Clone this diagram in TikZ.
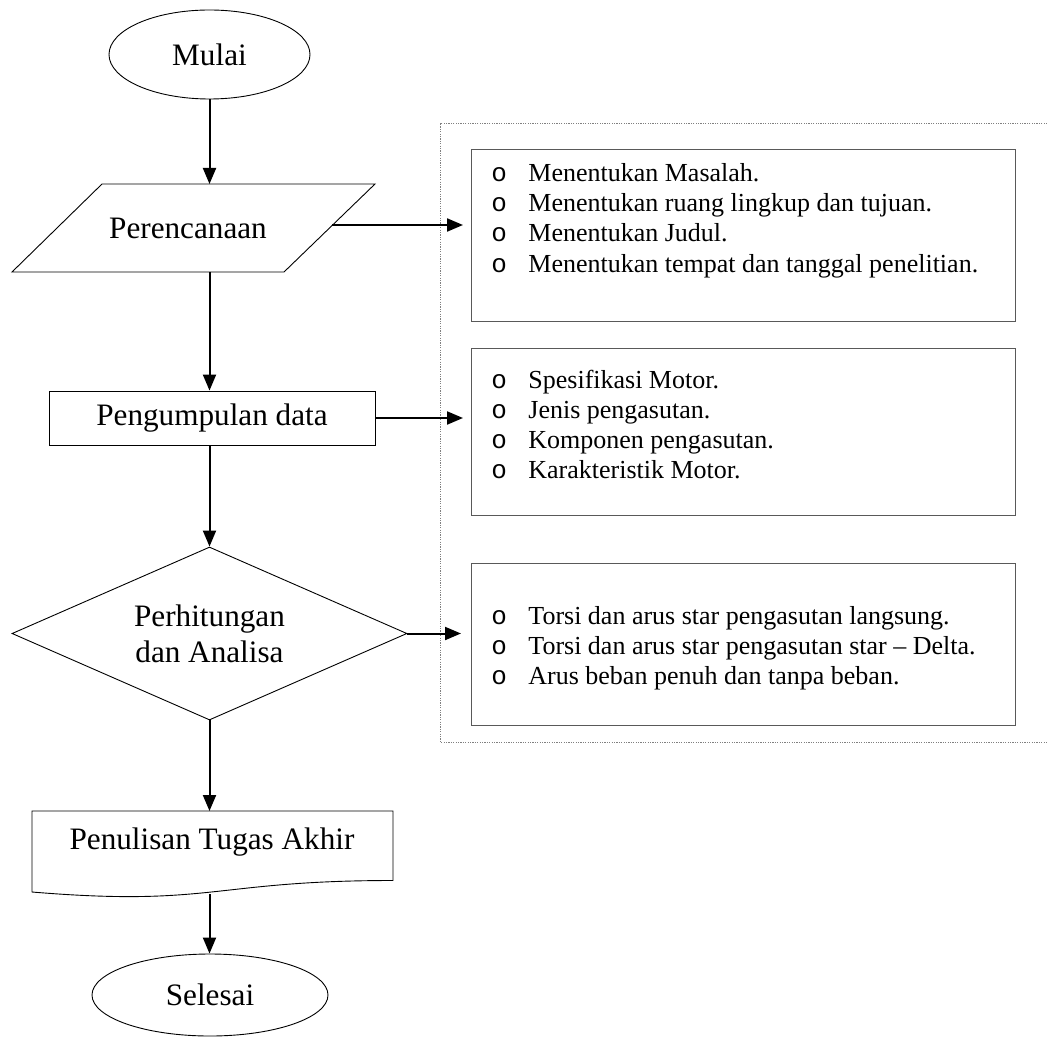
\documentclass[tikz,border=0pt]{standalone}
\usepackage{fontspec}
\setmainfont{Liberation Serif}
\newfontfamily\bulletfont{Liberation Mono}
\usepackage{tikz}
\usetikzlibrary{shapes.geometric}
\usetikzlibrary{arrows.meta}

\newcommand{\bulleted}[1]{\makebox[18.5pt][l]{\bulletfont o}#1}

\tikzset{
    flowshape/.style={draw, line width=0.45pt, inner sep=0pt, font=\fontsize{15.6}{18}\selectfont},
    flowtext/.style={inner sep=0pt, font=\fontsize{15.6}{18}\selectfont},
    terminal/.style={flowshape, ellipse},
    process/.style={flowshape, rectangle},
    decision/.style={flowshape, diamond, aspect=2.28, align=center},
    flowarrow/.style={line width=1pt, -{Triangle[length=8pt, width=6.5pt]}},
    listbox/.style={draw=black!65, line width=0.5pt, anchor=north west, minimum width=272pt, inner sep=0pt},
    listitem/.style={anchor=base west, inner sep=0pt, font=\fontsize{13}{15}\selectfont},
}

\begin{document}
\begin{tikzpicture}[x=0.5pt, y=-0.5pt]
    \useasboundingbox (0,0) rectangle (1047,1037);
    \clip (0,0) rectangle (1047,1037);

    % Dotted frame round the notes
    \draw[black!50, line width=0.5pt, dash pattern=on 0.6pt off 0.6pt] (440,124) rectangle (1070,742);

    % Flow shapes
    \node[terminal, minimum width=100.5pt, minimum height=44.5pt] (mulai) at (209.5,54.5) {Mulai};
    \node[flowtext] (plan) at (188,228) {Perencanaan};
    \draw[line width=0.45pt] (102,184) -- (375,184) -- (284,272) -- (12,272) -- cycle;
    \coordinate (plan-n) at (209.5,184);
    \coordinate (plan-s) at (209.5,272);
    \coordinate (plan-e) at (332,225);
    \node[process, minimum width=163pt, minimum height=27pt] (data) at (212,418) {Pengumpulan data};
    \node[decision, minimum width=197.5pt, minimum height=86.5pt] (hitung) at (209.5,633.5) {Perhitungan\\dan Analisa};
    \node[flowtext] (tulis) at (212,842) {Penulisan Tugas Akhir};
    \draw[line width=0.45pt] (32,811) -- (393,811) -- (393,880.5)
        .. controls (212.5,880.5) and (212.5,907) .. (32,892) -- cycle;
    \coordinate (tulis-n) at (209.5,811);
    \coordinate (tulis-s) at (209.5,894);
    \node[terminal, minimum width=118pt, minimum height=41pt] (selesai) at (210,995) {Selesai};

    % Note boxes
    \node[listbox, minimum height=86pt] (box1) at (471,149) {};
    \node[listbox, minimum height=83.5pt] (box2) at (471,348) {};
    \node[listbox, minimum height=81pt] (box3) at (471,563) {};

    \foreach \t [count=\i] in {Menentukan Masalah., Menentukan ruang lingkup dan tujuan., Menentukan Judul., Menentukan tempat dan tanggal penelitian.}
        \node[listitem] (plan-\i) at (491,152+30*\i) {\bulleted{\t}};
    \foreach \t [count=\i] in {Spesifikasi Motor., Jenis pengasutan., Komponen pengasutan., Karakteristik Motor.}
        \node[listitem] (data-\i) at (491,358+30*\i) {\bulleted{\t}};
    \foreach \t [count=\i] in {Torsi dan arus star pengasutan langsung., Torsi dan arus star pengasutan star – Delta., Arus beban penuh dan tanpa beban.}
        \node[listitem] (hitung-\i) at (491,594+30*\i) {\bulleted{\t}};

    % Main flow
    \draw[flowarrow] (mulai.south) -- (plan-n);
    \draw[flowarrow] (plan-s) -- (plan-s |- data.north);
    \draw[flowarrow] (hitung.north |- data.south) -- (hitung.north);
    \draw[flowarrow] (hitung.south) -- (tulis-n);
    \draw[flowarrow] (tulis-s) -- (tulis-s |- selesai.north);

    % Side arrows to the notes
    \draw[flowarrow, shorten >=4pt] (plan-e) -- (plan-e -| box1.west);
    \draw[flowarrow, shorten >=4pt] (data.east) -- (data.east -| box2.west);
    \draw[flowarrow, shorten >=5pt] (hitung.east) -- (hitung.east -| box3.west);
\end{tikzpicture}
\end{document}
